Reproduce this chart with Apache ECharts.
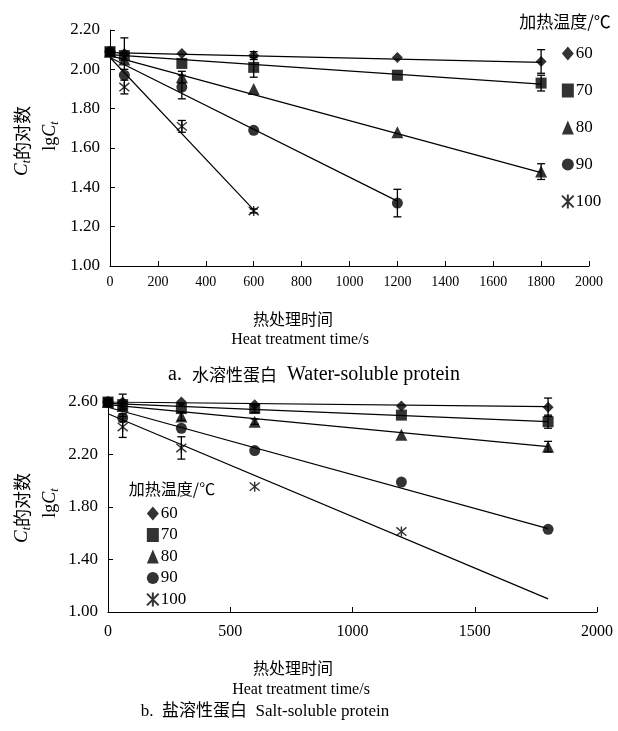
<!DOCTYPE html>
<html><head><meta charset="utf-8">
<script src="https://cdn.jsdelivr.net/npm/echarts@6/dist/echarts.min.js"></script>
<style>html,body{margin:0;padding:0;background:#fff}#c{width:618px;height:731px}</style>
</head><body><div id="c"></div>
<script>
// ---------- DATA ----------
const temps = ['60', '70', '80', '90', '100'];
const times = [0, 60, 300, 600, 1200, 1800];

// a. water-soluble protein (lgCt)
const water60  = [2.09, 2.08, 2.08, 2.07, 2.06, 2.04];
const water70  = [2.09, 2.07, 2.03, 2.01, 1.97, 1.93];
const water80  = [2.09, 2.05, 1.96, 1.90, 1.68, 1.48];
const water90  = [2.09, 1.97, 1.91, 1.69, 1.32];
const water100 = [2.09, 1.91, 1.71, 1.28];
const waterErr60  = [0, 0.08, 0, 0.02, 0, 0.06];
const waterErr70  = [0, 0, 0, 0.05, 0, 0.04];
const waterErr80  = [0, 0, 0.03, 0, 0, 0.04];
const waterErr90  = [0, 0, 0.06, 0, 0.07];
const waterErr100 = [0, 0.035, 0.03, 0.01];
// trend lines: [value at 0, value at end], end time
const waterFitStart = [2.085, 2.075, 2.07, 2.06, 2.06];
const waterFitEndVal = [2.035, 1.925, 1.475, 1.33, 1.285];
const waterFitEndTime = [1800, 1800, 1800, 1200, 600];

// b. salt-soluble protein (lgCt)
const salt60  = [2.60, 2.60, 2.60, 2.58, 2.57, 2.56];
const salt70  = [2.60, 2.58, 2.55, 2.55, 2.50, 2.45];
const salt80  = [2.60, 2.57, 2.49, 2.45, 2.35, 2.26];
const salt90  = [2.60, 2.48, 2.40, 2.23, 1.99, 1.63];
const salt100 = [2.60, 2.41, 2.25, 1.955, 1.613];
const saltErr60  = [0, 0.06, 0, 0, 0, 0.07];
const saltErr70  = [0, 0, 0, 0.03, 0, 0.05];
const saltErr80  = [0, 0, 0.03, 0.02, 0, 0.04];
const saltErr90  = [0, 0.03, 0, 0, 0, 0];
const saltErr100 = [0, 0.08, 0.085, 0, 0];
const saltFitStart = [2.60, 2.59, 2.58, 2.56, 2.51];
const saltFitEndVal = [2.565, 2.45, 2.26, 1.635, 1.10];
const saltFitEndTime = [1800, 1800, 1800, 1800, 1800];

// ---------- STYLE ----------
const SERIF = '"Liberation Serif","Times New Roman",serif';
const CJK = '"Noto Sans CJK SC","Liberation Serif",serif';
const STAR = 'path://M0,0L10,10M10,0L0,10M5,-1L5,11';
const symbols = ['diamond', 'rect', 'triangle', 'circle', STAR];
const symSizes = [11, 11, 12, 11, 10];

const waterVals = [water60, water70, water80, water90, water100];
const waterErrs = [waterErr60, waterErr70, waterErr80, waterErr90, waterErr100];
const saltVals = [salt60, salt70, salt80, salt90, salt100];
const saltErrs = [saltErr60, saltErr70, saltErr80, saltErr90, saltErr100];

function errSeries(ax, ys, es) {
  const data = [];
  ys.forEach((y, i) => { if (es[i] > 0) data.push([times[i], y - es[i], y + es[i]]); });
  return {
    type: 'custom', xAxisIndex: ax, yAxisIndex: ax, silent: true, z: 3, data,
    encode: { x: 0, y: [1, 2] },
    renderItem(params, api) {
      const lo = api.coord([api.value(0), api.value(1)]);
      const hi = api.coord([api.value(0), api.value(2)]);
      const w = 4, st = { stroke: '#000', lineWidth: 1.3 };
      return { type: 'group', children: [
        { type: 'line', shape: { x1: lo[0], y1: lo[1], x2: hi[0], y2: hi[1] }, style: st },
        { type: 'line', shape: { x1: lo[0] - w, y1: lo[1], x2: lo[0] + w, y2: lo[1] }, style: st },
        { type: 'line', shape: { x1: hi[0] - w, y1: hi[1], x2: hi[0] + w, y2: hi[1] }, style: st }
      ]};
    }
  };
}
function fitSeries(ax, s, e, t) {
  return {
    type: 'line', xAxisIndex: ax, yAxisIndex: ax, silent: true, symbol: 'none', z: 2,
    data: [[0, s], [t, e]], lineStyle: { color: '#000', width: 1.2 }
  };
}
function pointSeries(ax, k, ys) {
  const isStar = k === 4;
  return {
    name: temps[k], type: 'scatter', xAxisIndex: ax, yAxisIndex: ax, z: 4,
    symbol: symbols[k], symbolSize: symSizes[k],
    data: ys.map((y, i) => [times[i], y]),
    itemStyle: isStar ? { color: '#000', borderColor: '#000', borderWidth: 1.4 } : { color: '#000' }
  };
}

const series = [];
for (let k = 0; k < 5; k++) series.push(fitSeries(0, waterFitStart[k], waterFitEndVal[k], waterFitEndTime[k]));
for (let k = 0; k < 5; k++) series.push(fitSeries(1, saltFitStart[k], saltFitEndVal[k], saltFitEndTime[k]));
for (let k = 0; k < 5; k++) series.push(errSeries(0, waterVals[k], waterErrs[k]));
for (let k = 0; k < 5; k++) series.push(errSeries(1, saltVals[k], saltErrs[k]));
for (let k = 0; k < 5; k++) series.push(pointSeries(0, k, waterVals[k]));
for (let k = 0; k < 5; k++) series.push(pointSeries(1, k, saltVals[k]));

const axisCommon = {
  axisLine: { show: true, onZero: false, lineStyle: { color: '#000', width: 1 } },
  axisTick: { show: true, inside: true, length: 5, lineStyle: { color: '#000' } },
  splitLine: { show: false }
};
function xAx(grid, interval, fs, margin) {
  return Object.assign({}, axisCommon, {
    type: 'value', gridIndex: grid, min: 0, max: 2000, interval,
    axisLabel: { color: '#000', fontFamily: SERIF, fontSize: fs, margin, formatter: v => String(v) }
  });
}
function yAx(grid, min, max, interval) {
  return Object.assign({}, axisCommon, {
    type: 'value', gridIndex: grid, min, max, interval,
    axisLabel: { color: '#000', fontFamily: SERIF, fontSize: 17, margin: 10, formatter: v => v.toFixed(2) }
  });
}
function legendAt(left, top, gap) {
  return {
    orient: 'vertical', left, top, padding: 0, itemWidth: 12, itemHeight: 14, itemGap: gap,
    selectedMode: false, data: temps,
    textStyle: { color: '#000', fontFamily: SERIF, fontSize: 17, lineHeight: 14, padding: [0, 0, 0, -3] }
  };
}
function txt(x, y, text, fs, font, extra) {
  return Object.assign({
    type: 'text', x, y,
    style: { text, fill: '#000', font: fs + 'px ' + font, textAlign: 'center', textVerticalAlign: 'middle' }
  }, extra || {});
}
function yName(x, y) {
  return {
    type: 'text', x, y, rotation: Math.PI / 2,
    style: {
      text: '{i|C}{s|t}{c|的对数}', textAlign: 'center', textVerticalAlign: 'middle', fill: '#000',
      rich: {
        i: { fontFamily: SERIF, fontStyle: 'italic', fontSize: 19, fill: '#000' },
        s: { fontFamily: SERIF, fontStyle: 'italic', fontSize: 12, fill: '#000', verticalAlign: 'bottom', padding: [9, 0, 0, 0] },
        c: { fontFamily: CJK, fontSize: 18, fill: '#000' }
      }
    }
  };
}
function yName2(x, y) {
  return {
    type: 'text', x, y, rotation: Math.PI / 2,
    style: {
      text: '{n|lg}{i|C}{s|t}', textAlign: 'center', textVerticalAlign: 'middle', fill: '#000',
      rich: {
        n: { fontFamily: SERIF, fontSize: 18, fill: '#000' },
        i: { fontFamily: SERIF, fontStyle: 'italic', fontSize: 18, fill: '#000' },
        s: { fontFamily: SERIF, fontStyle: 'italic', fontSize: 12, fill: '#000', verticalAlign: 'bottom', padding: [9, 0, 0, 0] }
      }
    }
  };
}
function caption(x, y, a, cn, en, fsCn, fsEn) {
  return {
    type: 'text', x, y,
    style: {
      text: '{e|' + a + '}{c|' + cn + '}{e|  ' + en + '}', textAlign: 'center', textVerticalAlign: 'middle', fill: '#000',
      rich: {
        e: { fontFamily: SERIF, fontSize: fsEn, fill: '#000' },
        c: { fontFamily: CJK, fontSize: fsCn, fill: '#000' }
      }
    }
  };
}

const chart = echarts.init(document.getElementById('c'), null, { renderer: 'canvas' });
chart.setOption({
  backgroundColor: '#fff',
  animation: false,
  grid: [
    { left: 110, top: 30, width: 479, height: 236 },
    { left: 108, top: 402, width: 489, height: 210 }
  ],
  xAxis: [xAx(0, 200, 14, 9), xAx(1, 500, 16, 12)],
  yAxis: [yAx(0, 1, 2.2, 0.2), yAx(1, 1, 2.6, 0.4)],
  legend: [legendAt(561, 45, 20), legendAt(146, 505, 4.5)],
  series,
  graphic: [
    txt(565, 22, '加热温度/℃', 17, CJK),
    txt(172, 489, '加热温度/℃', 16, CJK),
    txt(293, 319, '热处理时间', 16, CJK),
    txt(300, 340, 'Heat treatment time/s', 16, SERIF),
    caption(314, 375, 'a.  ', '水溶性蛋白', 'Water-soluble protein', 17, 20),
    txt(293, 668, '热处理时间', 16, CJK),
    txt(301, 690, 'Heat treatment time/s', 16, SERIF),
    txt(265, 712, 'b.  盐溶性蛋白  Salt-soluble protein', 17, '"Liberation Serif","Noto Sans CJK SC",serif'),
    yName(22, 141), yName2(50, 136),
    yName(22, 508), yName2(50, 503)
  ]
});
</script>
</body></html>
